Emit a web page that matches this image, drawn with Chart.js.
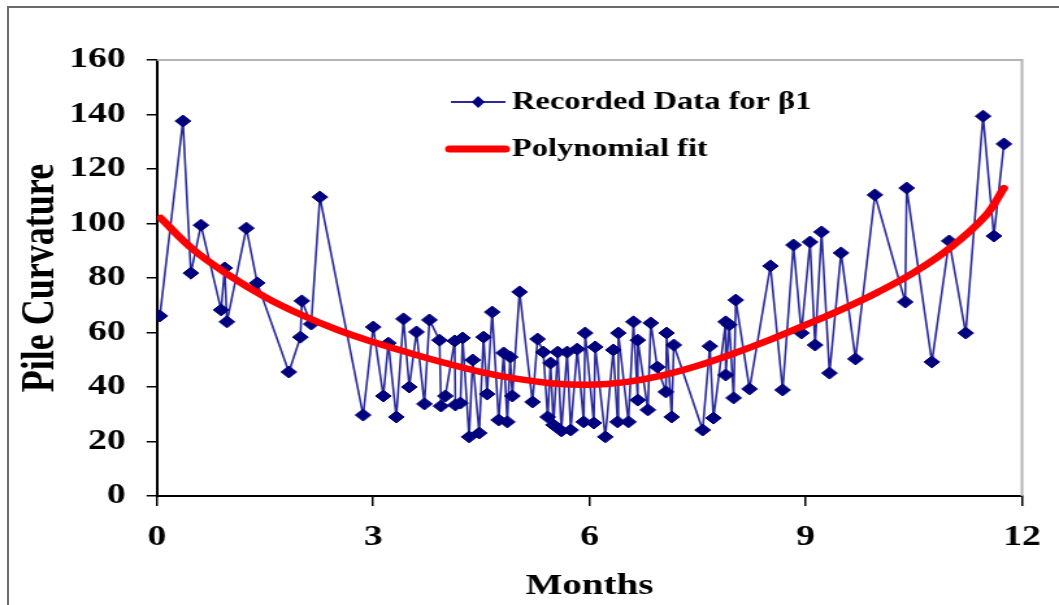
<!DOCTYPE html>
<html>
<head>
<meta charset="utf-8">
<script src="https://cdn.jsdelivr.net/npm/chart.js@4.4.0/dist/chart.umd.min.js"></script>
<style>
  html, body { margin: 0; padding: 0; background: #fff; }
  #frame { position: absolute; left: 7px; top: 6px; width: 1052px; height: 599px; border-left: 2px solid #6b6b6b; border-top: 2px solid #6b6b6b; }
  #chart { position: absolute; left: 0; top: 0; }
</style>
</head>
<body>
<div id="frame"></div>
<!-- drawn narrow, then stretched sideways like the original picture -->
<canvas id="chart" width="815" height="605" style="width:1059px;height:605px"></canvas>
<script>
const recordedMonths = [
  0.04, 0.36, 0.47, 0.61, 0.89, 0.94, 0.97, 1.24, 1.39, 1.83,
  1.99, 2.01, 2.14, 2.26, 2.86, 3.0, 3.14, 3.21, 3.32, 3.42,
  3.5, 3.6, 3.71, 3.78, 3.92, 3.94, 4.0, 4.13, 4.14, 4.21,
  4.24, 4.33, 4.38, 4.47, 4.53, 4.58, 4.65, 4.74, 4.81, 4.86,
  4.9, 4.93, 5.03, 5.21, 5.28, 5.36, 5.42, 5.46, 5.5, 5.56,
  5.61, 5.69, 5.74, 5.83, 5.92, 5.94, 6.06, 6.08, 6.22, 6.33,
  6.39, 6.4, 6.54, 6.61, 6.67, 6.67, 6.81, 6.85, 6.94, 7.06,
  7.07, 7.14, 7.17, 7.57, 7.67, 7.72, 7.89, 7.89, 7.94, 8.0,
  8.03, 8.22, 8.51, 8.68, 8.83, 8.94, 9.06, 9.13, 9.22, 9.33,
  9.49, 9.69, 9.96, 10.38, 10.4, 10.75, 10.99, 11.22, 11.46, 11.61,
  11.75
];
const recordedValues = [
  66.1, 137.6, 81.8, 99.4, 68.3, 83.7, 63.9, 98.3, 78.2, 45.5,
  58.3, 71.6, 63.1, 109.7, 29.7, 62.0, 36.7, 56.1, 29.0, 65.0,
  40.0, 60.2, 33.8, 64.6, 57.2, 33.0, 36.7, 56.9, 33.4, 34.1,
  58.0, 21.7, 49.9, 23.1, 58.3, 37.4, 67.5, 27.9, 52.5, 27.2,
  51.0, 36.7, 74.9, 34.5, 57.6, 52.8, 29.0, 48.8, 26.1, 52.8,
  23.9, 52.8, 24.2, 53.9, 27.2, 59.8, 26.8, 54.7, 21.7, 53.6,
  27.2, 59.8, 27.2, 63.9, 35.2, 57.2, 31.6, 63.5, 47.3, 38.2,
  59.8, 29.0, 55.4, 24.2, 55.0, 28.6, 63.9, 44.4, 62.8, 36.0,
  71.9, 39.3, 84.4, 38.9, 92.1, 59.8, 93.2, 55.4, 96.9, 45.1,
  89.2, 50.3, 110.5, 71.2, 113.0, 49.2, 93.6, 59.8, 139.4, 95.4,
  129.2
];

// red trend curve
const fitMonths = [0.05, 0.5, 1, 1.5, 2, 2.5, 3, 3.5, 4, 4.5, 5, 5.5, 6, 6.5, 7, 7.5, 8, 8.5, 9, 9.5, 10, 10.5, 11, 11.5, 11.75];
const fitValues = [102, 90.5, 81, 73, 66.5, 61, 56.5, 52.5, 48.8, 45.5, 43, 41.3, 40.8, 41.8, 44.2, 47.8, 52.3, 57.3, 62.8, 68.5, 74.8, 82, 91, 103, 113];

const seriesLabels = ["Recorded Data for \u03b21", "Polynomial fit"];
const xTicks = [0, 3, 6, 9, 12];
const yTicks = [0, 20, 40, 60, 80, 100, 120, 140, 160];

const FONT = '"Liberation Serif", "Times New Roman", serif';
const NAVY = "#00007f";

const plotBorder = {
  id: "plotBorder",
  beforeDatasetsDraw(chart) {
    const { ctx, chartArea: a } = chart;
    ctx.save();
    ctx.strokeStyle = "#b4b4b4";
    ctx.lineWidth = 2;
    ctx.beginPath();
    ctx.moveTo(a.left, a.top);
    ctx.lineTo(a.right, a.top);
    ctx.lineTo(a.right, a.bottom);
    ctx.stroke();
    ctx.restore();
  },
};

// legend sits inside the plot, top middle
const insideLegend = {
  id: "insideLegend",
  afterDraw(chart) {
    const ctx = chart.ctx;
    const ds = chart.data.datasets;
    ctx.save();
    ctx.font = "bold 25px " + FONT;
    ctx.textBaseline = "middle";
    ctx.fillStyle = "#000";

    // recorded data
    let y = 102;
    ctx.strokeStyle = ds[0].borderColor;
    ctx.lineWidth = 2;
    ctx.beginPath();
    ctx.moveTo(347, y);
    ctx.lineTo(389, y);
    ctx.stroke();
    ctx.fillStyle = ds[0].pointBackgroundColor;
    ctx.beginPath();
    ctx.moveTo(368 - 5, y);
    ctx.lineTo(368, y - 6);
    ctx.lineTo(368 + 5, y);
    ctx.lineTo(368, y + 6);
    ctx.closePath();
    ctx.fill();
    ctx.fillStyle = "#000";
    ctx.fillText(ds[0].label, 394, y + 1);

    // fit
    y = 149;
    ctx.strokeStyle = ds[1].borderColor;
    ctx.lineWidth = 7;
    ctx.lineCap = "round";
    ctx.beginPath();
    ctx.moveTo(346, y);
    ctx.lineTo(389, y);
    ctx.stroke();
    ctx.fillText(ds[1].label, 394, y + 1);
    ctx.restore();
  },
};

const ctx = document.getElementById("chart").getContext("2d");
new Chart(ctx, {
  type: "line",
  data: {
    datasets: [
      {
        label: seriesLabels[0],
        data: recordedMonths.map((m, i) => ({ x: m, y: recordedValues[i] })),
        borderColor: "#2a2a9a",
        borderWidth: 1.6,
        pointStyle: "rectRot",
        pointRadius: 6,
        pointBackgroundColor: NAVY,
        pointBorderColor: NAVY,
        pointBorderWidth: 1,
        tension: 0,
        order: 1,
      },
      {
        label: seriesLabels[1],
        data: fitMonths.map((m, i) => ({ x: m, y: fitValues[i] })),
        borderColor: "#ff0000",
        borderWidth: 6.5,
        pointRadius: 0,
        tension: 0.4,
        borderCapStyle: "round",
        order: 0,
      },
    ],
  },
  options: {
    responsive: false,
    animation: false,
    layout: { padding: { left: 0, top: 60, right: 28.5, bottom: 0 } },
    plugins: { legend: { display: false }, tooltip: { enabled: false } },
    scales: {
      x: {
        type: "linear",
        min: 0,
        max: 12,
        afterBuildTicks: (s) => { s.ticks = xTicks.map((v) => ({ value: v })); },
        afterFit: (s) => { s.height = 109; },
        ticks: { color: "#000", font: { family: FONT, size: 29, weight: "bold" }, padding: 14, maxRotation: 0 },
        grid: { drawOnChartArea: false, drawTicks: true, tickLength: 10, color: "#000", lineWidth: 1.5 },
        border: { color: "#000", width: 2 },
        title: {
          display: true,
          text: "Months",
          color: "#000",
          font: { family: FONT, size: 30, weight: "bold" },
          padding: { top: 0, bottom: 1 },
        },
      },
      y: {
        min: 0,
        max: 160,
        afterBuildTicks: (s) => { s.ticks = yTicks.map((v) => ({ value: v })); },
        afterFit: (s) => { s.width = 120.8; },
        ticks: { color: "#000", font: { family: FONT, size: 29, weight: "bold" }, padding: 16 },
        grid: { drawOnChartArea: false, drawTicks: true, tickLength: 8, color: "#000", lineWidth: 1.5 },
        border: { color: "#000", width: 2 },
        title: {
          display: true,
          text: "Pile Curvature",
          color: "#000",
          font: { family: FONT, size: 36, weight: "bold" },
          padding: { top: 10, bottom: 0 },
        },
      },
    },
  },
  plugins: [plotBorder, insideLegend],
});
</script>
</body>
</html>
